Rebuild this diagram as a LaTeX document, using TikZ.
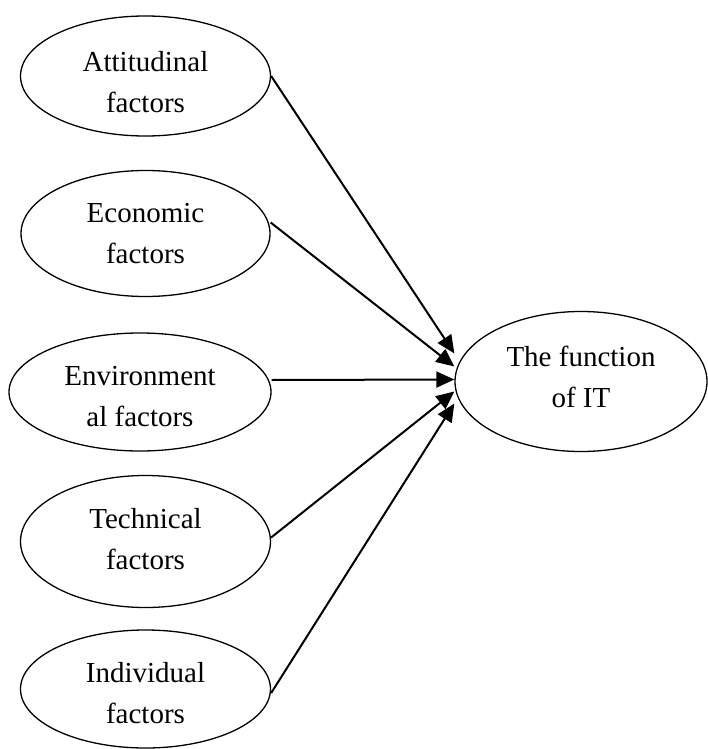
\documentclass[tikz,border=0pt]{standalone}
\usepackage{fontspec}
\setmainfont{Liberation Serif}
\usetikzlibrary{shapes.geometric,arrows.meta,calc}
\begin{document}
\begin{tikzpicture}[x=1pt,y=-1pt,
  factor/.style={draw, ellipse, line width=1.3pt, inner sep=0pt},
  ftext/.style={align=center, inner sep=0pt, font=\fontsize{29}{41}\selectfont},
  link/.style={line width=2pt, -{Triangle[length=18pt,width=16pt]}}]
\useasboundingbox (0,0) rectangle (707,749);
\node[factor, minimum width=250pt, minimum height=120pt] (e1) at (145.5,76) {};
\node[factor, minimum width=249pt, minimum height=126pt] (e2) at (145.5,233.5) {};
\node[factor, minimum width=262pt, minimum height=118pt] (e3) at (140,392) {};
\node[factor, minimum width=250pt, minimum height=132pt] (e4) at (145.5,541.5) {};
\node[factor, minimum width=250pt, minimum height=118pt] (e5) at (145.5,689) {};
\node[factor, minimum width=252pt, minimum height=140pt] (t) at (581,381.5) {};
\node[ftext] (e1t) at ($(e1)+(0,6)$) {Attitudinal\\factors};
\node[ftext] (e2t) at ($(e2)+(0,0)$) {Economic\\factors};
\node[ftext] (e3t) at ($(e3)+(0,4.5)$) {Environment\\al factors};
\node[ftext] (e4t) at ($(e4)+(0,-2)$) {Technical\\factors};
\node[ftext] (e5t) at ($(e5)+(0,4)$) {Individual\\factors};
\node[ftext] (tt) at ($(t)+(0,-5)$) {The function\\of IT};
\draw[link] (e1.east) -- ($(t.west)+(0,-28)$);
\draw[link] ($(e2.east)+(0,-11)$) -- ($(t.west)+(0,-15)$);
\draw[link] ($(e3.east)+(0,-12)$) -- ($(t.west)+(0,-2)$);
\draw[link] ($(e4.east)+(0,-4)$) -- ($(t.west)+(0,10)$);
\draw[link] ($(e5.east)+(0,4)$) -- ($(t.west)+(0,22)$);
\end{tikzpicture}
\end{document}
